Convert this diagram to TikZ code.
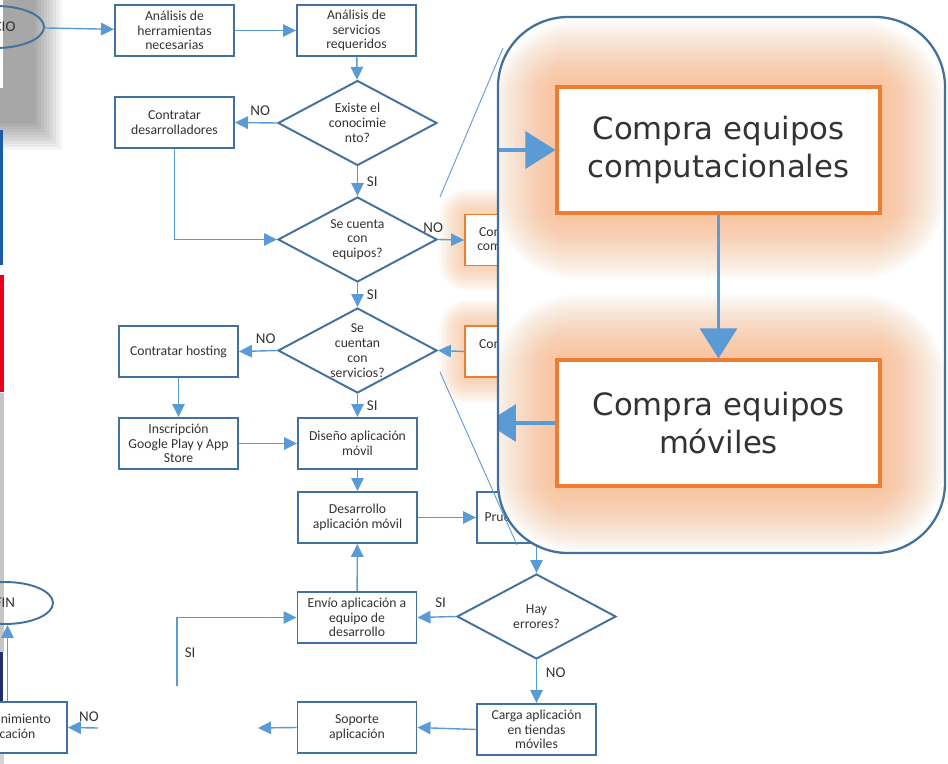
\documentclass[tikz,border=0pt]{standalone}
\usepackage{fontspec}
\setmainfont{Carlito}
\newfontfamily\zoomfont{DejaVu Sans}
\usetikzlibrary{shapes.geometric,arrows.meta}

\definecolor{boxblue}{HTML}{41719C}
\definecolor{flowblue}{HTML}{5B9BD5}
\definecolor{buyorange}{HTML}{ED7D31}
\definecolor{gloworange}{HTML}{F8AC70}
\definecolor{inktext}{HTML}{333333}
\definecolor{stripblue}{HTML}{1E5AA8}
\definecolor{stripred}{HTML}{E8001C}
\definecolor{stripnavy}{HTML}{1F2F6B}

\begin{document}
\begin{tikzpicture}[x=0.02cm, y=-0.02cm,
    paso/.style={rectangle, draw=boxblue, line width=1.1pt, fill=white,
      minimum width=2.38cm, minimum height=1.02cm, inner sep=1pt, align=center,
      text=inktext, font=\fontsize{7.8}{8.4}\selectfont},
    compra/.style={paso, draw=buyorange, line width=1pt},
    pregunta/.style={diamond, draw=boxblue, line width=1.1pt, fill=white, aspect=1.87,
      minimum width=3.18cm, minimum height=1.7cm, inner sep=0pt, align=center,
      text=inktext, font=\fontsize{7.8}{8.4}\selectfont},
    extremo/.style={ellipse, draw=boxblue, line width=1.1pt, minimum height=0.84cm,
      minimum width=1.92cm, text=inktext, font=\fontsize{8.5}{9}\selectfont},
    flujo/.style={draw=flowblue, line width=0.8pt, -{Triangle[length=2.6mm,width=2.5mm]}},
    rotulo/.style={text=inktext, font=\fontsize{8.5}{9}\selectfont, inner sep=2pt},
    grande/.style={rectangle, draw=buyorange, line width=1.8pt, fill=white,
      minimum width=6.46cm, minimum height=2.52cm, align=center, text=inktext,
      font=\zoomfont\fontsize{17.5}{21.5}\selectfont},
    flujogrande/.style={draw=flowblue, line width=1.8pt, -{Triangle[length=6mm,width=7.4mm]}}]

  \clip (0,0) rectangle (948,764);
  \fill[white] (0,0) rectangle (948,764);

  % ===== borde izquierdo de la diapositiva =====
  \foreach \d in {0,3,...,27}
    \fill[black, opacity=0.04] (-10,-10) rectangle (62-\d,150-\d);
  \fill[white] (0,0) rectangle (3,88);
  \fill[stripblue] (0,130) rectangle (3.5,265);
  \fill[stripred] (0,275) rectangle (4,392);
  \fill[gray!45] (0,393) rectangle (4,652);
  \fill[stripnavy] (0,652) rectangle (3.5,705);
  \fill[gray!35] (0,705) rectangle (4,764);

  % brillo de las cajas de compra
  \foreach \g in {2,4,...,26} {
    \fill[gloworange, opacity=0.05, rounded corners={\g*0.2mm+0.5mm}] (465-\g,215-\g) rectangle (584+\g,265+\g);
    \fill[gloworange, opacity=0.05, rounded corners={\g*0.2mm+0.5mm}] (465-\g,326-\g) rectangle (584+\g,377+\g);
  }

  % ===== diagrama de flujo =====
  \node[extremo] (inicio) at (-4,27) {INICIO};
  \node[paso] (herr) at (174.5,30.5) {Análisis de\\herramientas\\necesarias};
  \node[paso] (serv) at (356.5,30.5) {Análisis de\\servicios\\requeridos};
  \node[pregunta] (conoc) at (357.5,123) {Existe el\\conocimie\\nto?};
  \node[paso] (contdes) at (174.5,122.5) {Contratar\\desarrolladores};
  \node[pregunta] (equip) at (357.5,239.5) {Se cuenta\\con\\equipos?};
  \node[compra] (compc) at (524.5,240) {Compra equipos\\computacionales};
  \node[pregunta] (servd) at (357.5,350.5) {Se\\cuentan\\con\\servicios?};
  \node[compra] (compm) at (524.5,351.5) {Compra equipos\\móviles};
  \node[paso] (hosting) at (178.5,351.5) {Contratar hosting};
  \node[paso] (inscr) at (178.5,443.5) {Inscripción\\Google Play y App\\Store};
  \node[paso] (disen) at (357.5,443.5) {Diseño aplicación\\móvil};
  \node[paso] (desar) at (357.5,517.5) {Desarrollo\\aplicación móvil};
  \node[paso] (prueb) at (536.5,517.5) {Pruebas aplicación};
  \node[pregunta] (errores) at (536.5,616.5) {Hay\\errores?};
  \node[paso] (envio) at (357,617.5) {Envío aplicación a\\equipo de\\desarrollo};
  \node[paso] (carga) at (536.5,729.5) {Carga aplicación\\en tiendas\\móviles};
  \node[paso] (soporte) at (357,727.5) {Soporte\\aplicación};
  \node[paso] (mant) at (7.5,727.5) {Mantenimiento\\aplicación};
  \node[extremo] (fin) at (5,603) {FIN};

  \coordinate (retornoSI) at (177,686);
  \coordinate (salidaSoporte) at (258,728);
  \coordinate (entradaMant) at (98,728);

  \draw[flujo] (inicio) -- (herr);
  \draw[flujo] (herr) -- (serv);
  \draw[flujo] (serv) -- (conoc);
  \draw[flujo] (conoc.west) -- node[rotulo, above, pos=0.4, yshift=0.5mm] {NO} (contdes.east);
  \draw[flujo] (conoc.south) -- node[rotulo, right=3pt] {SI} (equip.north);
  \draw[flujo] (contdes.south) |- (equip.west);
  \draw[flujo] (equip.east) -- node[rotulo, above left, pos=0.35, yshift=0.5mm] {NO} (compc.west);
  \draw[flujo] (equip.south) -- node[rotulo, right=3pt] {SI} (servd.north);
  \draw[flujo] (compm.west) -- (servd.east);
  \draw[flujo] (servd.west) -- node[rotulo, above, pos=0.3, yshift=0.5mm] {NO} (hosting.east);
  \draw[flujo] (servd.south) -- node[rotulo, right=3pt] {SI} (disen.north);
  \draw[flujo] (hosting) -- (inscr);
  \draw[flujo] (inscr) -- (disen);
  \draw[flujo] (disen) -- (desar);
  \draw[flujo] (desar) -- (prueb);
  \draw[flujo] (prueb) -- (errores);
  \draw[flujo] (errores.west) -- node[rotulo, above, pos=0.4, yshift=1mm] {SI} (envio.east);
  \draw[flujo] (envio) -- (desar);
  \draw[flujo] (retornoSI) |- (envio.west);
  \node[rotulo, right] (siretorno) at (181,653) {SI};
  \draw[flujo] (errores.south) -- node[rotulo, right=3pt, pos=0.3] {NO} (carga.north);
  \draw[flujo] (carga.west) -- (soporte.east);
  \draw[flujo] (soporte.west) -- (salidaSoporte);
  \draw[flujo] (entradaMant) -- node[rotulo, above, pos=0.3, yshift=0.5mm] {NO} (mant.east);
  \draw[flujo] (mant.north) -- (mant.north |- fin.south);

  % ===== lupa sobre las compras =====
  \coordinate (lupaA) at (440,197);
  \coordinate (lupaB) at (503,48);
  \coordinate (lupaC) at (440,372);
  \coordinate (lupaD) at (517,545);
  \draw[flowblue, line width=0.5pt] (lupaA) -- (lupaB);
  \draw[flowblue, line width=0.5pt] (lupaC) -- (lupaD);

  \fill[white, rounded corners=1.4cm] (498,17) rectangle (945,553);
  \begin{scope}
    \clip[rounded corners=1.4cm] (498,17) rectangle (945,553);
    \foreach \g in {2,4,...,66} {
      \fill[gloworange, opacity=0.026, rounded corners={\g*0.25mm+1mm}] (557-\g,87-\g) rectangle (880+\g,213+\g);
      \fill[gloworange, opacity=0.026, rounded corners={\g*0.25mm+1mm}] (557-\g,360-\g) rectangle (880+\g,486+\g);
    }
    \node[grande] (bigcomp) at (718.5,150) {Compra equipos\\computacionales};
    \node[grande] (bigmov) at (718.5,423) {Compra equipos\\móviles};
    \coordinate (bordeA) at (492,150);
    \coordinate (bordeB) at (486,423);
    \draw[flujogrande] (bordeA) -- (bigcomp.west);
    \draw[flujogrande] (bigmov.west) -- (bordeB);
    \draw[flujogrande] (bigcomp.south) -- (bigmov.north);
  \end{scope}
  \draw[boxblue, line width=1.3pt, rounded corners=1.4cm] (498,17) rectangle (945,553);

\end{tikzpicture}
\end{document}
